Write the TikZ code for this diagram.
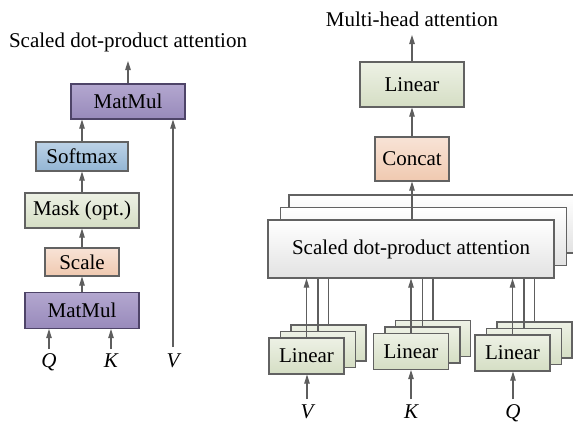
\documentclass[tikz,border=0pt]{standalone}
\usepackage{fontspec}
\setmainfont{Liberation Serif}
\usetikzlibrary{arrows.meta,calc}
\definecolor{bord}{HTML}{626262}
\definecolor{purbord}{HTML}{4E4468}
\definecolor{arrc}{HTML}{5E5E5E}
\definecolor{purpTop}{HTML}{B3A7CF}
\definecolor{purpBot}{HTML}{988ABB}
\definecolor{bluTop}{HTML}{BCD2E6}
\definecolor{bluBot}{HTML}{93B5D4}
\definecolor{grnTop}{HTML}{EDF1E5}
\definecolor{grnBot}{HTML}{D5DEC4}
\definecolor{pchTop}{HTML}{F8E3D6}
\definecolor{pchBot}{HTML}{F0C9B0}
\definecolor{whtTop}{HTML}{FFFFFF}
\definecolor{whtBot}{HTML}{E2E2E2}
\begin{document}
\begin{tikzpicture}[x=1bp,y=-1bp,
  font=\fontsize{21bp}{25bp}\selectfont\rmfamily,
  box/.style={draw=bord, line width=1.1bp, inner sep=0pt, rectangle, font=\fontsize{21bp}{25bp}\selectfont\rmfamily},
  grad/.style 2 args={path picture={\shade[top color=#1, bottom color=#2]
      (path picture bounding box.north west) rectangle (path picture bounding box.south east);}},
  purp/.style={box, draw=purbord, grad={purpTop}{purpBot}},
  blu/.style={box, grad={bluTop}{bluBot}},
  grn/.style={box, grad={grnTop}{grnBot}},
  pch/.style={box, grad={pchTop}{pchBot}},
  wht/.style={box, grad={whtTop}{whtBot}},
  linbox/.style={grn, minimum width=75bp, minimum height=36bp},
  sdpbox/.style={wht, minimum width=286bp, minimum height=58bp},
  arr/.style={draw=arrc, line width=1.1bp, -{Triangle[length=9bp,width=5.5bp]}},
  ln/.style={draw=arrc, line width=1.1bp},
  lab/.style={anchor=base, inner sep=0pt},
]
\useasboundingbox (0,0) rectangle (573,423);
\clip (0,0) rectangle (573,423);

% ---------------- left: scaled dot-product attention ----------------
\node[lab] (ltitle) at (128,47) {Scaled dot-product attention};
\node[purp, minimum width=114bp, minimum height=35bp] (mm2) at (128,101.5) {MatMul};
\node[blu, minimum width=92bp, minimum height=29bp] (soft) at (82,156.5) {Softmax};
\node[grn, minimum width=114bp, minimum height=35bp] (mask) at (82,210.5) {Mask (opt.)};
\node[pch, minimum width=74bp, minimum height=28bp] (scale) at (82,262) {Scale};
\node[purp, minimum width=114bp, minimum height=36bp] (mm1) at (82,310.5) {MatMul};

\node[lab] (Ql) at (49,367) {\itshape Q};
\node[lab] (Kl) at (111,367) {\itshape K};
\node[lab] (Vl) at (173,367) {\itshape V};
\coordinate (qs) at (49,349);
\coordinate (ks) at (111,349);
\coordinate (vs) at (173,347);
\coordinate (lt) at (128,61);

\draw[arr] (mm2.north) -- (lt);
\draw[arr] (soft.north) -- (soft.north |- mm2.south);
\draw[arr] (mask.north) -- (soft.south);
\draw[arr] (scale.north) -- (mask.south);
\draw[arr] (mm1.north) -- (scale.south);
\draw[arr] (qs) -- (qs |- mm1.south);
\draw[arr] (ks) -- (ks |- mm1.south);
\draw[arr] (vs) -- (vs |- mm2.south);

% ---------------- right: multi-head attention ----------------
\node[lab] (rtitle) at (412,26) {Multi-head attention};
\node[grn, minimum width=104bp, minimum height=45bp] (lin) at (412,84.5) {Linear};
\node[pch, minimum width=74bp, minimum height=44bp] (concat) at (412,159) {Concat};

\node[sdpbox] (sd3) at (432,224) {};
\node[sdpbox] (sd2) at (423.5,236.5) {};
\node[sdpbox] (sd1) at (411,249) {Scaled dot-product attention};

\coordinate (rt) at (412,35);
\draw[arr] (lin.north) -- (rt);
\draw[arr] (concat.north) -- (lin.south);
\draw[arr] (sd1.north -| concat.south) -- (concat.south);

% linear groups
\foreach \n/\cx/\cy in {V/306.5/356, K/411/351.5, Q/512.5/353}{
  \node[linbox] (\n3) at (\cx+22,\cy-13) {};
  \node[linbox] (\n2) at (\cx+11.5,\cy-6.5) {};
  \node[linbox] (\n1) at (\cx,\cy) {Linear};
}
\foreach \n in {V,K,Q}{
  \draw[arr] (\n1.north) -- (\n1.north |- sd1.south);
  \draw[ln] (\n2.north) -- (\n2.north |- sd1.south);
  \draw[ln] (\n3.north) -- (\n3.north |- sd1.south);
}

\node[lab] (Vr) at (307,418) {\itshape V};
\node[lab] (Kr) at (411,418) {\itshape K};
\node[lab] (Qr) at (513,418) {\itshape Q};
\coordinate (vrs) at (307,399);
\coordinate (krs) at (411,399);
\coordinate (qrs) at (513,399);
\draw[arr] (vrs) -- (vrs |- V1.south);
\draw[arr] (krs) -- (krs |- K1.south);
\draw[arr] (qrs) -- (qrs |- Q1.south);
\end{tikzpicture}
\end{document}
